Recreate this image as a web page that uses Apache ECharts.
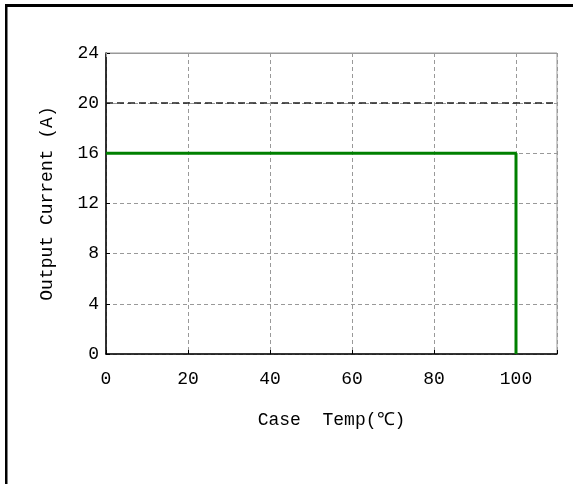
<!DOCTYPE html>
<html>
<head>
<meta charset="utf-8">
<script src="https://cdn.jsdelivr.net/npm/echarts@6/dist/echarts.min.js"></script>
<style>
  html, body { margin: 0; padding: 0; background: #fff; }
  #grafico { width: 577px; height: 484px; }
</style>
</head>
<body>
<div id="grafico"></div>
<script>
// derating curve: case temp (C) -> output current (A)
var caseTemp = [0, 100, 100];
var outputCurrent = [16, 16, 0];
var xTicks = [0, 20, 40, 60, 80, 100];
var yTicks = [0, 4, 8, 12, 16, 20, 24];
var darkGridAt = [20];

var fonte = 'Liberation Mono';

function exibeGrafico() {
    var myChart = echarts.init(document.getElementById('grafico'));

    var pontos = [];
    caseTemp.forEach(function (t, i) {
        pontos.push([t, outputCurrent[i]]);
    });

    var option = {
        backgroundColor: '#fff',
        animation: false,
        grid: {
            left: 106, top: 53, right: 20, bottom: 130,
            show: true, borderColor: '#999', borderWidth: 1
        },
        xAxis: [{
            type: 'value',
            min: xTicks[0], max: 110, interval: 20,
            name: 'Case  Temp(\u2103)',
            nameLocation: 'middle',
            nameGap: 57,
            nameTextStyle: { fontFamily: fonte, fontSize: 18, color: '#000' },
            axisLine: { lineStyle: { color: '#000', width: 1.5 } },
            axisTick: { inside: true, length: 4, lineStyle: { color: '#000' } },
            axisLabel: {
                margin: 16, fontFamily: fonte, fontSize: 18, color: '#000',
                formatter: function (v) { return xTicks.indexOf(v) >= 0 ? String(v) : ''; }
            },
            splitLine: { show: true, lineStyle: { color: '#999', type: [4, 3] } }
        }, {
            type: 'value',
            position: 'top',
            min: xTicks[0], max: 110, interval: 20,
            axisLine: { show: true, lineStyle: { color: '#999' } },
            axisTick: { inside: true, length: 4, lineStyle: { color: '#999' } },
            axisLabel: { show: false },
            splitLine: { show: false }
        }],
        yAxis: {
            type: 'value',
            min: yTicks[0], max: yTicks[yTicks.length - 1], interval: 4,
            name: 'Output Current (A)',
            nameLocation: 'middle',
            nameGap: 50,
            nameTextStyle: { fontFamily: fonte, fontSize: 18, color: '#000' },
            axisLine: { show: true, lineStyle: { color: '#000', width: 1.5 } },
            axisTick: { show: true, inside: true, length: 4, lineStyle: { color: '#000' } },
            axisLabel: { margin: 7, fontFamily: fonte, fontSize: 18, color: '#000' },
            splitLine: { show: true, lineStyle: { color: '#999', type: [4, 3] } }
        },
        series: [{
            type: 'line',
            data: pontos,
            showSymbol: false,
            lineStyle: { color: '#008000', width: 3 },
            markLine: {
                silent: true,
                symbol: 'none',
                label: { show: false },
                lineStyle: { color: '#222', width: 1.5, type: [7, 4] },
                data: darkGridAt.map(function (v) { return { yAxis: v }; })
            },
            z: 5
        }],
        graphic: [
            { type: 'rect', shape: { x: 5, y: 4, width: 568, height: 3 }, style: { fill: '#000' } },
            { type: 'rect', shape: { x: 5, y: 4, width: 2.5, height: 480 }, style: { fill: '#000' } }
        ]
    };

    myChart.setOption(option);
}

exibeGrafico();
</script>
</body>
</html>
